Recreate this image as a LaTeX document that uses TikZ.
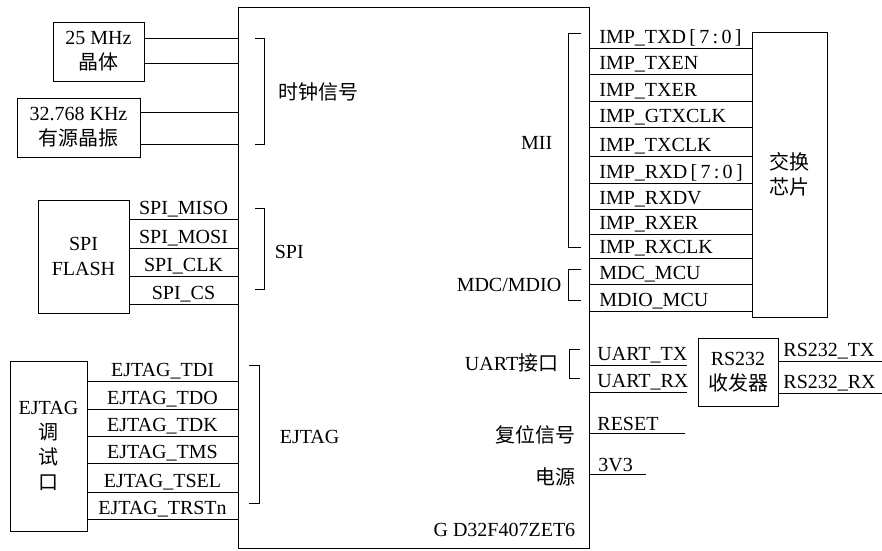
\documentclass[tikz,border=0pt]{standalone}
\usepackage{fontspec}
\setmainfont{Liberation Serif}
\newfontfamily\cjk{Noto Sans CJK SC}
\tikzset{
  box/.style={draw, align=center, inner sep=0pt},
  sig/.style={above, inner sep=1.5pt},
  sigr/.style={above, inner sep=1.5pt, pos=0, anchor=south west},
}
\begin{document}
\begin{tikzpicture}[x=1pt, y=-1pt, line width=0.9pt,
    every node/.style={font=\fontsize{20}{25}\selectfont}]
    \useasboundingbox (0,0) rectangle (882,550);

    % blocks
    \node[box, minimum width=351pt, minimum height=541pt] (mcu) at (413.5,277.5) {};
    \node[box, minimum width=91pt, minimum height=59pt] (xtal) at (98.5,51.5) {25 MHz\\{\cjk 晶体}};
    \node[box, minimum width=123pt, minimum height=59pt] (osc) at (78.5,127.5) {32.768 KHz\\{\cjk 有源晶振}};
    \node[box, minimum width=91pt, minimum height=113pt] (flash) at (83.5,256.5) {SPI\\FLASH};
    \node[box, minimum width=77pt, minimum height=170pt] (jtag) at (48.5,446) {EJTAG\\{\cjk 调}\\{\cjk 试}\\{\cjk 口}};
    \node[box, minimum width=75pt, minimum height=285pt] (sw) at (789.5,174.5) {{\cjk 交换}\\{\cjk 芯片}};
    \node[box, minimum width=80pt, minimum height=68pt] (rs) at (738,372) {RS232\\{\cjk 收发器}};

    % free ends
    \coordinate (txend) at (687,365);
    \coordinate (rxend) at (687,392);
    \coordinate (rstend) at (685,433);
    \coordinate (pwrend) at (646,474);
    \coordinate (rstx) at (882,361);
    \coordinate (rsrx) at (882,393);

    % clock
    \foreach \y in {38,63}
        \draw (xtal.east |- 0,\y) -- (mcu.west |- 0,\y);
    \foreach \y in {112,144}
        \draw (osc.east |- 0,\y) -- (mcu.west |- 0,\y);

    % SPI
    \foreach \y/\t in {219/SPI\_MISO, 248/SPI\_MOSI, 276/SPI\_CLK, 304/SPI\_CS}
        \draw (flash.east |- 0,\y) -- node[sig] {\t} (mcu.west |- 0,\y);

    % EJTAG
    \foreach \y/\t in {381/EJTAG\_TDI, 409/EJTAG\_TDO, 436/EJTAG\_TDK, 463/EJTAG\_TMS, 492/EJTAG\_TSEL, 519/EJTAG\_TRSTn}
        \draw (jtag.east |- 0,\y) -- node[sig] {\t} (mcu.west |- 0,\y);

    % MII and MDC/MDIO
    \foreach \y/\t in {48/IMP\_TXD\,[\,7\,:\,0\,], 74/IMP\_TXEN, 101/IMP\_TXER, 127/IMP\_GTXCLK, 156/IMP\_TXCLK,
            183/IMP\_RXD\,[\,7\,:\,0\,], 209/IMP\_RXDV, 234/IMP\_RXER, 258/IMP\_RXCLK, 284/MDC\_MCU, 311/MDIO\_MCU}
        \draw (mcu.east |- 0,\y) -- node[sigr, xshift=8pt] {\t} (sw.west |- 0,\y);

    % UART, reset, power
    \draw (mcu.east |- txend) -- node[sigr, xshift=6pt] {UART\_TX} (txend);
    \draw (mcu.east |- rxend) -- node[sigr, xshift=6pt] {UART\_RX} (rxend);
    \draw (rs.east |- rstx) -- node[sigr, xshift=3pt] {RS232\_TX} (rstx);
    \draw (rs.east |- rsrx) -- node[sigr, xshift=3pt] {RS232\_RX} (rsrx);
    \draw (mcu.east |- rstend) -- node[sigr, xshift=6pt] {RESET} (rstend);
    \draw (mcu.east |- pwrend) -- node[sigr, xshift=7pt] {3V3} (pwrend);

    % brackets
    \draw (255,38) -- (264,38) -- (264,144) -- (255,144);
    \draw (255,208) -- (264,208) -- (264,289) -- (255,289);
    \draw (249,365) -- (259,365) -- (259,503) -- (249,503);
    \draw (581,33) -- (568,33) -- (568,247) -- (581,247);
    \draw (581,269) -- (568,269) -- (568,300) -- (581,300);
    \draw (580,349) -- (569,349) -- (569,378) -- (580,378);

    % labels inside the chip
    \node[anchor=west] (clklbl) at (275,92) {\cjk 时钟信号};
    \node[anchor=west] (spilbl) at (271,252) {SPI};
    \node[anchor=west] (jtaglbl) at (276,437) {EJTAG};
    \node[anchor=east] (miilbl) at (556,143) {MII};
    \node[anchor=east] (mdclbl) at (565,285) {MDC/MDIO};
    \node[anchor=east] (uartlbl) at (562,363) {UART{\cjk 接口}};
    \node[anchor=east] (rstlbl) at (579,435) {\cjk 复位信号};
    \node[anchor=east] (pwrlbl) at (579,477) {\cjk 电源};
    \node[anchor=east] (mculbl) at (579,530) {G D32F407ZET6};
\end{tikzpicture}
\end{document}
